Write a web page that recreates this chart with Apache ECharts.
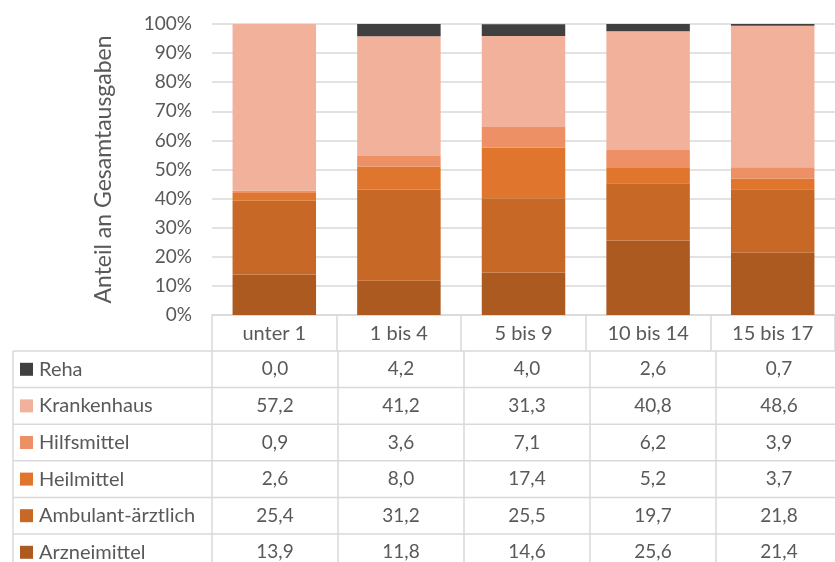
<!DOCTYPE html>
<html>
<head>
<meta charset="utf-8">
<script src="https://cdn.jsdelivr.net/npm/echarts@6/dist/echarts.min.js"></script>
<style>
  html, body { margin: 0; padding: 0; background: #fff; }
  #chart { width: 835px; height: 562px; }
</style>
</head>
<body>
<div id="chart"></div>
<script>
// Altersgruppen
var categories = ['unter 1', '1 bis 4', '5 bis 9', '10 bis 14', '15 bis 17']
// Reihen von oben nach unten wie in der Tabelle
var seriesNames = ['Reha', 'Krankenhaus', 'Hilfsmittel', 'Heilmittel', 'Ambulant-ärztlich', 'Arzneimittel']
var reha = [0.0, 4.2, 4.0, 2.6, 0.7]
var krankenhaus = [57.2, 41.2, 31.3, 40.8, 48.6]
var hilfsmittel = [0.9, 3.6, 7.1, 6.2, 3.9]
var heilmittel = [2.6, 8.0, 17.4, 5.2, 3.7]
var ambulant = [25.4, 31.2, 25.5, 19.7, 21.8]
var arznei = [13.9, 11.8, 14.6, 25.6, 21.4]
var colors = ['#404040', '#F2B19B', '#EE9066', '#E0762D', '#C76827', '#AD5A21']

var rows = [reha, krankenhaus, hilfsmittel, heilmittel, ambulant, arznei]
var FONT = 'Lato'
var TXT = '#595959'
var LINE = '#d9d9d9'

// Tabellen-Geometrie
var gridLeft = 212, colW = 126, tableLeft = 13
var headBottom = 351, rowH = 36.6
var tableRight = gridLeft + colW * categories.length

function fmt(v) {
    return v.toFixed(1).replace('.', ',')
}

function buildTable() {
    var els = []
    var nRows = rows.length
    // horizontale Linien
    for (var i = 0; i <= nRows; i++) {
        var y = headBottom + i * rowH
        els.push({type: 'line', shape: {x1: tableLeft, y1: y, x2: tableRight, y2: y},
            style: {stroke: LINE, lineWidth: 1.5}, silent: true})
    }
    // vertikale Linien
    var xs = [tableLeft]
    for (var c = 0; c <= categories.length; c++) xs.push(gridLeft + c * colW)
    for (var k = 0; k < xs.length; k++) {
        els.push({type: 'line', shape: {x1: xs[k], y1: headBottom, x2: xs[k], y2: headBottom + nRows * rowH},
            style: {stroke: LINE, lineWidth: 1.5}, silent: true})
    }
    // Zellen
    for (var r = 0; r < nRows; r++) {
        var cy = headBottom + r * rowH + rowH / 2
        els.push({type: 'rect', shape: {x: 20, y: cy - 6.5, width: 13, height: 13},
            style: {fill: colors[r]}, silent: true})
        els.push({type: 'text', x: 39, y: cy,
            style: {text: seriesNames[r], font: '20px ' + FONT, fill: TXT, textVerticalAlign: 'middle'}})
        for (var c2 = 0; c2 < categories.length; c2++) {
            els.push({type: 'text', x: gridLeft + c2 * colW + colW / 2, y: cy,
                style: {text: fmt(rows[r][c2]), font: '19px ' + FONT, fill: TXT,
                    textAlign: 'center', textVerticalAlign: 'middle'}})
        }
    }
    return els
}

var chart = echarts.init(document.getElementById('chart'))

// Stapel von unten nach oben
var stackOrder = [5, 4, 3, 2, 1, 0]
var series = stackOrder.map(function (idx) {
    return {
        name: seriesNames[idx],
        type: 'bar',
        stack: 'total',
        barWidth: '67%',
        data: rows[idx],
        itemStyle: {color: colors[idx]}
    }
})

chart.setOption({
    animation: false,
    textStyle: {fontFamily: FONT},
    grid: {left: gridLeft, right: 835 - tableRight, top: 24, bottom: 562 - 315},
    xAxis: {
        type: 'category',
        data: categories,
        axisLine: {lineStyle: {color: LINE, width: 1.5}},
        axisTick: {show: true, length: 36, lineStyle: {color: LINE, width: 1.5}},
        axisLabel: {color: TXT, fontSize: 20, margin: 9, fontFamily: FONT}
    },
    yAxis: {
        type: 'value',
        min: 0,
        max: 100,
        interval: 10,
        name: 'Anteil an Gesamtausgaben',
        nameLocation: 'middle',
        nameRotate: 90,
        nameGap: 97,
        nameTextStyle: {color: TXT, fontSize: 23, fontFamily: FONT},
        axisLabel: {color: TXT, fontSize: 19, margin: 20, formatter: '{value}%', fontFamily: FONT},
        splitLine: {lineStyle: {color: LINE, width: 1.5}},
        axisLine: {show: false},
        axisTick: {show: false}
    },
    series: series,
    graphic: buildTable()
})
</script>
</body>
</html>
